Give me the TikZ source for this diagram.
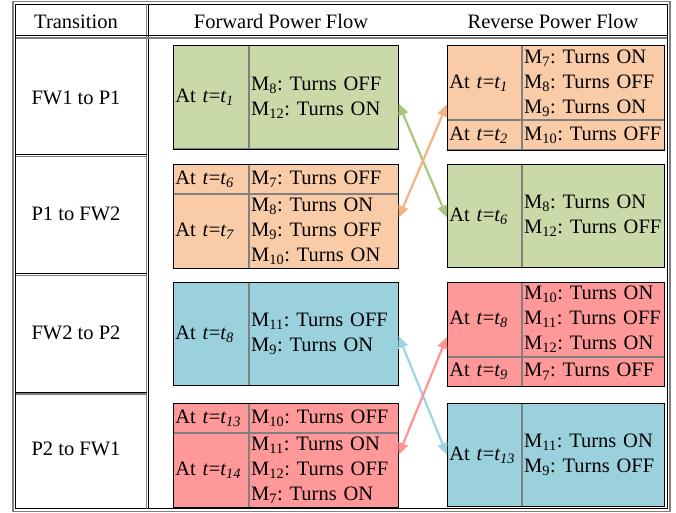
\documentclass[tikz,border=0pt]{standalone}
\usepackage{fontspec}
\setmainfont{Liberation Serif}
\usepackage{tikz}
\usetikzlibrary{arrows.meta}
\definecolor{grnfill}{HTML}{C9DAA8}
\definecolor{orgfill}{HTML}{F9CBA7}
\definecolor{blufill}{HTML}{9BD0DD}
\definecolor{redfill}{HTML}{FF9999}
\definecolor{grnline}{HTML}{A9C67F}
\definecolor{orgline}{HTML}{F6B183}
\definecolor{bluline}{HTML}{9DD5E3}
\definecolor{redline}{HTML}{FF9494}
\newcommand{\Mx}[1]{M\textsubscript{#1}}
\newcommand{\Att}[1]{At \textit{t}=\textit{t\textsubscript{#1}}}
\frenchspacing

\begin{document}
\begin{tikzpicture}[x=1pt, y=-1pt,
  txt/.style={font=\fontsize{20.5}{25}\selectfont, inner sep=0pt},
  cell/.style={txt, draw=gray, line width=0.8pt, anchor=north west, align=left, inner xsep=2pt},
  frame/.style={draw=black, line width=0.9pt},
  swap/.style={line width=2.2pt, {Triangle[length=12pt,width=10pt]}-{Triangle[length=12pt,width=10pt]}}]
\useasboundingbox (0,0) rectangle (676,513);
\draw[gray, line width=1.6pt] (13,1.5) rectangle (670,511.5);
\draw[line width=0.8pt] (15.5,4) rectangle (667,508.5);
\draw[gray, line width=1.6pt] (146.5,4) -- (146.5,508.5);
\draw[line width=0.8pt] (148.5,4) -- (148.5,508.5);
\draw[line width=0.8pt] (15.5,35.5) -- (667,35.5);
\draw[gray, line width=1.6pt] (15.5,38) -- (667,38);
\foreach \y in {154.5,273.5,392}{
  \draw[line width=0.8pt] (15.5,\y) -- (146.5,\y);
  \draw[gray, line width=1.6pt] (15.5,\y+2) -- (146.5,\y+2);
}
\node[txt, anchor=base] (hd) at (76,29) {Transition};
\node[txt, anchor=base] (hf) at (281,29) {Forward Power Flow};
\node[txt, anchor=base] (hr) at (553,29) {Reverse Power Flow};
\node[txt] (t1) at (76,98) {FW1 to P1};
\node[txt] (t2) at (76,214) {P1 to FW2};
\node[txt] (t3) at (76,333) {FW2 to P2};
\node[txt] (t4) at (76,449) {P2 to FW1};

\node[cell, fill=grnfill, text width=71pt, minimum height=103pt] (f1a) at (173,45.5) {\Att{1}};
\node[cell, fill=grnfill, text width=145pt, minimum height=103pt] (f1b) at (f1a.north east) {\Mx{8}: Turns OFF\\\Mx{12}: Turns ON};
\draw[frame] (f1a.north west) rectangle (f1b.south east);

\node[cell, fill=orgfill, text width=70pt, minimum height=74pt] (r1a) at (447,45.5) {\Att{1}};
\node[cell, fill=orgfill, text width=138pt, minimum height=74pt] (r1b) at (r1a.north east) {\Mx{7}: Turns ON\\\Mx{8}: Turns OFF\\\Mx{9}: Turns ON};
\node[cell, fill=orgfill, text width=70pt, minimum height=29pt] (r1c) at (r1a.south west) {\Att{2}};
\node[cell, fill=orgfill, text width=138pt, minimum height=29pt] (r1d) at (r1c.north east) {\Mx{10}: Turns OFF};
\draw[frame] (r1a.north west) rectangle (r1d.south east);

\node[cell, fill=orgfill, text width=71pt, minimum height=29pt] (f2a) at (173,164) {\Att{6}};
\node[cell, fill=orgfill, text width=145pt, minimum height=29pt] (f2b) at (f2a.north east) {\Mx{7}: Turns OFF};
\node[cell, fill=orgfill, text width=71pt, minimum height=74pt] (f2c) at (f2a.south west) {\Att{7}};
\node[cell, fill=orgfill, text width=145pt, minimum height=74pt] (f2d) at (f2c.north east) {\Mx{8}: Turns ON\\\Mx{9}: Turns OFF\\\Mx{10}: Turns ON};
\draw[frame] (f2a.north west) rectangle (f2d.south east);

\node[cell, fill=grnfill, text width=70pt, minimum height=103pt] (r2a) at (447,164) {\Att{6}};
\node[cell, fill=grnfill, text width=138pt, minimum height=103pt] (r2b) at (r2a.north east) {\Mx{8}: Turns ON\\\Mx{12}: Turns OFF};
\draw[frame] (r2a.north west) rectangle (r2b.south east);

\node[cell, fill=blufill, text width=71pt, minimum height=103pt] (f3a) at (173,282) {\Att{8}};
\node[cell, fill=blufill, text width=145pt, minimum height=103pt] (f3b) at (f3a.north east) {\Mx{11}: Turns OFF\\\Mx{9}: Turns ON};
\draw[frame] (f3a.north west) rectangle (f3b.south east);

\node[cell, fill=redfill, text width=70pt, minimum height=74pt] (r3a) at (447,282) {\Att{8}};
\node[cell, fill=redfill, text width=138pt, minimum height=74pt] (r3b) at (r3a.north east) {\Mx{10}: Turns ON\\\Mx{11}: Turns OFF\\\Mx{12}: Turns ON};
\node[cell, fill=redfill, text width=70pt, minimum height=29pt] (r3c) at (r3a.south west) {\Att{9}};
\node[cell, fill=redfill, text width=138pt, minimum height=29pt] (r3d) at (r3c.north east) {\Mx{7}: Turns OFF};
\draw[frame] (r3a.north west) rectangle (r3d.south east);

\node[cell, fill=redfill, text width=71pt, minimum height=29pt] (f4a) at (173,403) {\Att{13}};
\node[cell, fill=redfill, text width=145pt, minimum height=29pt] (f4b) at (f4a.north east) {\Mx{10}: Turns OFF};
\node[cell, fill=redfill, text width=71pt, minimum height=74pt] (f4c) at (f4a.south west) {\Att{14}};
\node[cell, fill=redfill, text width=145pt, minimum height=74pt] (f4d) at (f4c.north east) {\Mx{11}: Turns ON\\\Mx{12}: Turns OFF\\\Mx{7}: Turns ON};
\draw[frame] (f4a.north west) rectangle (f4d.south east);

\node[cell, fill=blufill, text width=70pt, minimum height=103pt] (r4a) at (447,403) {\Att{13}};
\node[cell, fill=blufill, text width=138pt, minimum height=103pt] (r4b) at (r4a.north east) {\Mx{11}: Turns ON\\\Mx{9}: Turns OFF};
\draw[frame] (r4a.north west) rectangle (r4b.south east);

\draw[swap, grnline] ([yshift=-6pt]f1b.east) -- ([yshift=-1.5pt]r2a.west);
\draw[swap, orgline] ([yshift=-24pt]f2d.north east) -- ([yshift=16pt]r1a.south west);
\draw[swap, bluline] ([yshift=-2pt]f3b.east) -- (r4a.west);
\draw[swap, redline] ([yshift=-22pt]f4d.north east) -- ([yshift=20pt]r3a.south west);
\end{tikzpicture}
\end{document}
